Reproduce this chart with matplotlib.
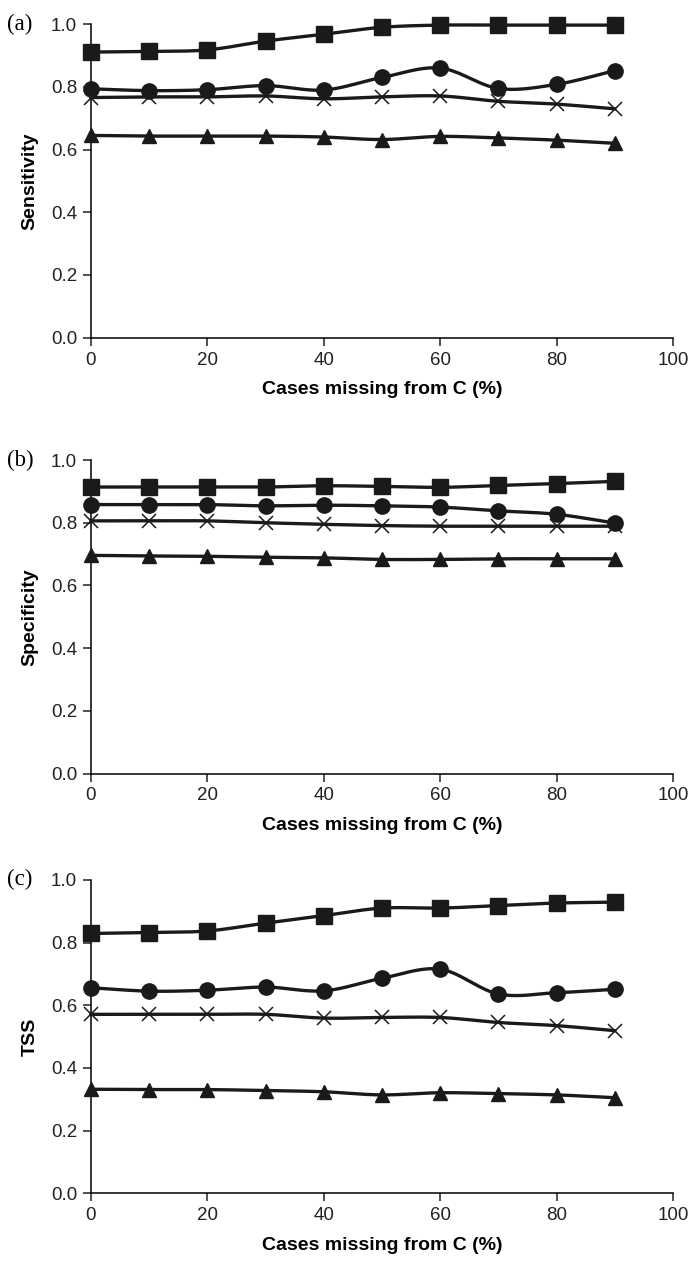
"""Three-panel line chart: sensitivity, specificity and TSS vs. missing cases."""

import matplotlib
matplotlib.use("Agg")
import matplotlib.pyplot as plt
import numpy as np

MISSING = [0, 10, 20, 30, 40, 50, 60, 70, 80, 90]

# (a) Sensitivity
SENS_SQUARE = [0.911, 0.913, 0.918, 0.946, 0.968, 0.990, 0.997, 0.997, 0.997, 0.997]
SENS_CIRCLE = [0.794, 0.788, 0.791, 0.804, 0.790, 0.830, 0.860, 0.795, 0.808, 0.852]
SENS_CROSS = [0.766, 0.768, 0.768, 0.771, 0.762, 0.768, 0.771, 0.754, 0.745, 0.730]
SENS_TRIANGLE = [0.645, 0.643, 0.643, 0.643, 0.640, 0.632, 0.642, 0.637, 0.630, 0.620]

# (b) Specificity
SPEC_SQUARE = [0.914, 0.914, 0.914, 0.914, 0.918, 0.916, 0.913, 0.919, 0.925, 0.932]
SPEC_CIRCLE = [0.858, 0.858, 0.858, 0.854, 0.856, 0.854, 0.850, 0.838, 0.827, 0.799]
SPEC_CROSS = [0.806, 0.806, 0.806, 0.800, 0.795, 0.791, 0.789, 0.789, 0.789, 0.789]
SPEC_TRIANGLE = [0.696, 0.694, 0.693, 0.690, 0.688, 0.683, 0.683, 0.685, 0.685, 0.685]

# (c) TSS
TSS_SQUARE = [0.829, 0.832, 0.837, 0.862, 0.886, 0.910, 0.910, 0.918, 0.926, 0.929]
TSS_CIRCLE = [0.656, 0.645, 0.648, 0.658, 0.646, 0.686, 0.715, 0.636, 0.640, 0.651]
TSS_CROSS = [0.571, 0.571, 0.571, 0.571, 0.559, 0.561, 0.561, 0.545, 0.535, 0.519]
TSS_TRIANGLE = [0.332, 0.331, 0.331, 0.328, 0.324, 0.314, 0.321, 0.318, 0.314, 0.305]

PANELS = [
    ("(a)", "Sensitivity", [SENS_SQUARE, SENS_CIRCLE, SENS_CROSS, SENS_TRIANGLE]),
    ("(b)", "Specificity", [SPEC_SQUARE, SPEC_CIRCLE, SPEC_CROSS, SPEC_TRIANGLE]),
    ("(c)", "TSS", [TSS_SQUARE, TSS_CIRCLE, TSS_CROSS, TSS_TRIANGLE]),
]

INK = "#1a1a1a"
MARKERS = [
    dict(marker="s", markersize=11, markerfacecolor=INK, markeredgecolor=INK),
    dict(marker="o", markersize=11, markerfacecolor=INK, markeredgecolor=INK),
    dict(marker="x", markersize=10, markerfacecolor="none", markeredgecolor=INK, markeredgewidth=1.1),
    dict(marker="^", markersize=10.5, markerfacecolor=INK, markeredgecolor=INK),
]


def smooth(x, y, steps=20):
    """Catmull-Rom style smoothing, like a spreadsheet 'smoothed line'."""
    x = np.asarray(x, float)
    y = np.asarray(y, float)
    px = np.concatenate([[x[0]], x, [x[-1]]])
    py = np.concatenate([[y[0]], y, [y[-1]]])
    xs, ys = [], []
    t = np.linspace(0, 1, steps)
    for i in range(1, len(px) - 2):
        p0, p1, p2, p3 = (np.array([px[j], py[j]]) for j in range(i - 1, i + 3))
        c1 = p1 + (p2 - p0) / 6.0
        c2 = p2 - (p3 - p1) / 6.0
        seg = ((1 - t) ** 3)[:, None] * p1 + (3 * (1 - t) ** 2 * t)[:, None] * c1 \
            + (3 * (1 - t) * t ** 2)[:, None] * c2 + (t ** 3)[:, None] * p2
        xs.append(seg[:, 0])
        ys.append(seg[:, 1])
    return np.concatenate(xs), np.concatenate(ys)


fig = plt.figure(figsize=(6.95, 12.66), dpi=100)
bottoms = [0.7333, 0.3890, 0.0574]
for (tag, ylabel, series), bottom in zip(PANELS, bottoms):
    ax = fig.add_axes([0.1309, bottom, 0.8374, 0.2476])
    for values, style in zip(series, MARKERS):
        sx, sy = smooth(MISSING, values)
        ax.plot(sx, sy, color=INK, linewidth=2.4, zorder=2, clip_on=False)
        ax.plot(MISSING, values, linestyle="none", zorder=3, clip_on=False, **style)

    ax.set_xlim(0, 100)
    ax.set_ylim(0, 1.0)
    ax.set_xticks([0, 20, 40, 60, 80, 100])
    ax.set_yticks([0.0, 0.2, 0.4, 0.6, 0.8, 1.0])
    ax.set_yticklabels([f"{v:.1f}" for v in ax.get_yticks()])
    ax.spines["top"].set_visible(False)
    ax.spines["right"].set_visible(False)
    for side in ("left", "bottom"):
        ax.spines[side].set_linewidth(1.1)
    ax.tick_params(direction="out", length=5.5, width=1.1, labelsize=13.5,
                   colors="#222222", pad=4.5)
    for lab in ax.get_xticklabels() + ax.get_yticklabels():
        lab.set_family("Liberation Sans")
    ax.set_xlabel("Cases missing from C (%)", fontsize=14, fontweight="bold",
                  family="Liberation Sans", labelpad=9)
    ax.set_ylabel(ylabel, fontsize=14, fontweight="bold",
                  family="Liberation Sans", labelpad=9)
    ax.text(-0.144, 1.0, tag, transform=ax.transAxes, fontsize=16.5,
            family="Liberation Serif", ha="left", va="center")

fig.savefig("out.png", dpi=100)
